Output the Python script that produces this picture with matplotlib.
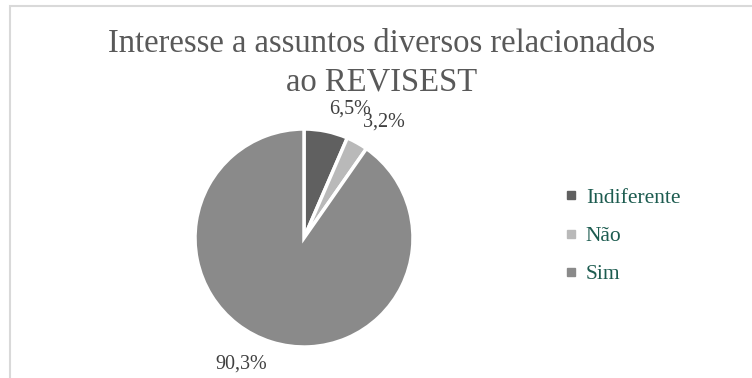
import numpy as np
import matplotlib.pyplot as plt
from matplotlib.patches import Rectangle
from matplotlib.lines import Line2D

title = 'Interesse a assuntos diversos relacionados\nao REVISEST'
categories = ['Indiferente', 'Não', 'Sim']
values = [6.5, 3.2, 90.3]
pct_labels = ['6,5%', '3,2%', '90,3%']
colors = ['#606060', '#b9b9b9', '#8a8a8a']

plt.rcParams['font.family'] = ['Liberation Serif', 'DejaVu Serif']

W, H = 752, 378
fig = plt.figure(figsize=(W / 100, H / 100), dpi=100)

# chart area border (only top and left visible in the crop)
fig.add_artist(Rectangle((10 / W, -0.05), 1.1, (H - 6) / H + 0.05, transform=fig.transFigure,
                         fill=False, edgecolor='#d9d9d9', linewidth=1.5))

# pie axes: center ~ (304, 238) px, radius ~109 px
cx, cy, r = 304, 238, 109
ax = fig.add_axes([(cx - r) / W, (H - cy - r) / H, 2 * r / W, 2 * r / H])
wedges, _ = ax.pie(values, colors=colors, startangle=90, counterclock=False,
                   wedgeprops=dict(edgecolor='white', linewidth=2.5))
ax.set_xlim(-1, 1)
ax.set_ylim(-1, 1)
ax.set_aspect('equal')
ax.axis('off')

for w, lab in zip(wedges, pct_labels):
    mid = np.deg2rad((w.theta1 + w.theta2) / 2)
    x, y = 1.12 * np.cos(mid), 1.12 * np.sin(mid)
    ax.text(x, y, lab, ha='left' if x > 0 else 'right', va='bottom' if y > 0 else 'top',
            fontsize=14.5, color='#404040', clip_on=False)

fig.text(382 / W, 1 - 63 / H, title, ha='center', va='center', fontsize=23.5,
         color='#595959', linespacing=1.3)

handles = [Line2D([], [], marker='s', linestyle='', markersize=6, color=c) for c in colors]
fig.legend(handles, categories, loc='center left', bbox_to_anchor=(545 / W, 1 - 236 / H),
           frameon=False, fontsize=15.5, labelcolor='#1d5c50', handlelength=0.6,
           handletextpad=0.4, labelspacing=0.85)

fig.savefig('out.png', dpi=100)
